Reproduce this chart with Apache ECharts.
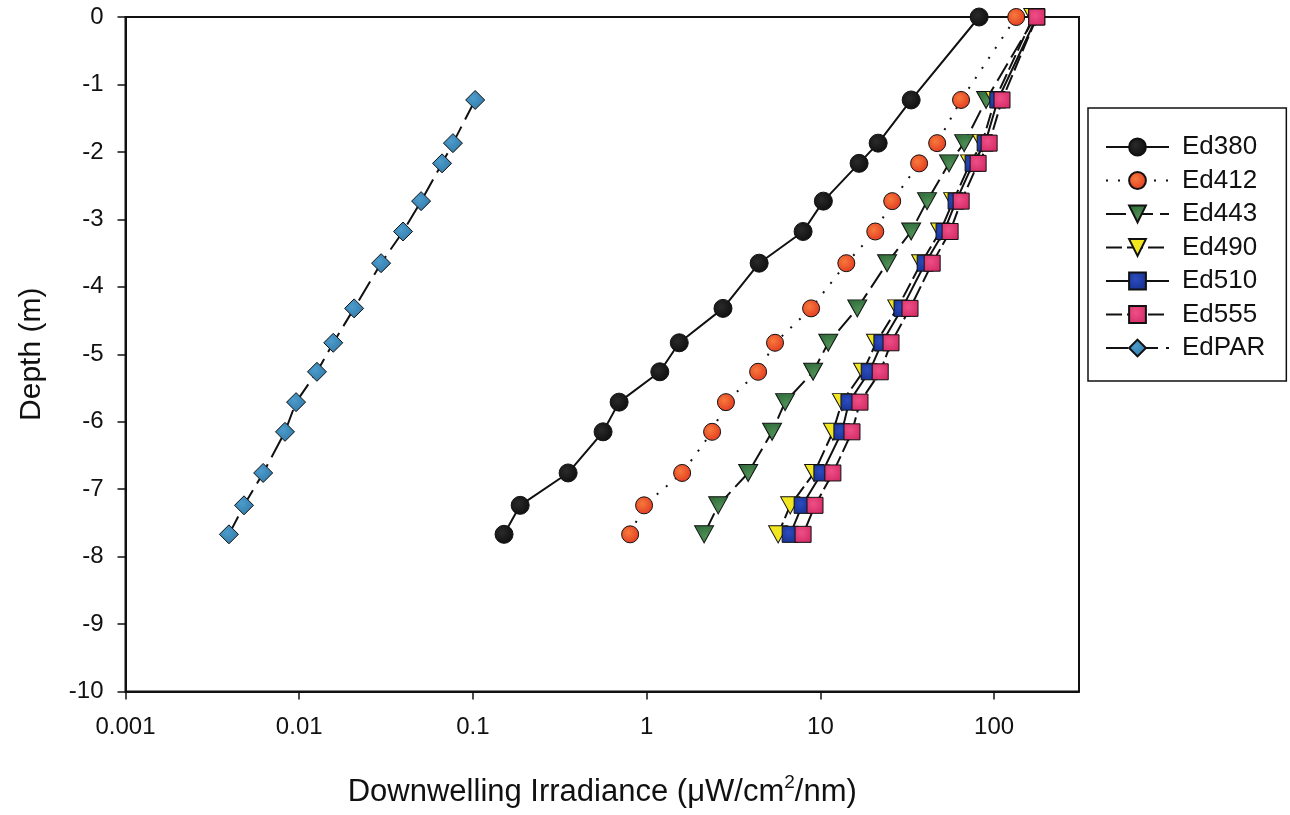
<!DOCTYPE html>
<html>
<head>
<meta charset="utf-8">
<script src="https://cdn.jsdelivr.net/npm/echarts@6/dist/echarts.min.js"></script>
<style>
  html, body { margin: 0; padding: 0; background: #fff; }
  #chart { width: 1290px; height: 815px; }
</style>
</head>
<body>
<div id="chart"></div>
<script>
// ---- data ----
const depth = [0, -1.23, -1.87, -2.17, -2.73, -3.18, -3.65, -4.32, -4.83, -5.26, -5.71, -6.15, -6.76, -7.24, -7.67];
const ed380 = [82, 33.3, 21.5, 16.7, 10.4, 7.95, 4.44, 2.75, 1.54, 1.19, 0.694, 0.561, 0.353, 0.187, 0.151];
const ed412 = [134, 64.5, 47.0, 37.0, 25.9, 20.7, 14.1, 8.84, 5.48, 4.38, 2.86, 2.38, 1.60, 0.966, 0.803];
const ed443 = [172, 89.9, 67.2, 55.0, 41.1, 33.3, 24.2, 16.3, 11.1, 9.08, 6.26, 5.27, 3.84, 2.58, 2.14];
const ed490 = [168, 101, 85.3, 72.7, 58.1, 48.9, 38.0, 27.7, 20.9, 17.6, 13.3, 11.8, 9.20, 6.70, 5.71];
const ed510 = [176, 105, 88.8, 75.7, 60.4, 51.5, 40.1, 29.5, 22.6, 19.1, 14.6, 13.3, 10.2, 7.85, 6.70];
const ed555 = [176, 111, 93.6, 80.9, 64.6, 55.8, 44.0, 32.8, 25.5, 22.1, 16.9, 15.2, 11.8, 9.31, 7.95];
const edPAR = [null, 0.103, 0.0767, 0.0664, 0.0503, 0.0396, 0.0296, 0.0207, 0.0157, 0.01265, 0.00959, 0.00828, 0.0062, 0.00481, 0.00394];

const seriesNames = ['Ed380', 'Ed412', 'Ed443', 'Ed490', 'Ed510', 'Ed555', 'EdPAR'];
const xTickValues = [0.001, 0.01, 0.1, 1, 10, 100];
const xTickLabels = ['0.001', '0.01', '0.1', '1', '10', '100'];
const yTickLabels = ['0', '-1', '-2', '-3', '-4', '-5', '-6', '-7', '-8', '-9', '-10'];

function pairs(vals) {
  const out = [];
  vals.forEach((v, i) => { if (v != null) out.push([v, depth[i]]); });
  return out;
}
function radial(c0, c1) {
  return { type: 'radial', x: 0.4, y: 0.4, r: 0.7,
    colorStops: [{ offset: 0, color: c0 }, { offset: 1, color: c1 }] };
}

const FONT = 'Liberation Sans, Arial, Helvetica, sans-serif';

const styles = [
  { symbol: 'circle', size: 18, color: radial('#2a2a2a', '#0c0c0c'), line: 'solid' },
  { symbol: 'circle', size: 17, color: radial('#f67a3c', '#e2341e'), line: [2, 10] },
  { symbol: 'triangle', size: [19, 17], rotate: 180, color: radial('#4f8f55', '#2f6b3a'), line: [20, 7] },
  { symbol: 'triangle', size: [19, 17], rotate: 180, color: '#f2e620', line: [16, 5] },
  { symbol: 'rect', size: 16, color: radial('#2b4cc0', '#17308f'), line: 'solid' },
  { symbol: 'rect', size: 16, color: radial('#ee4f86', '#d42a66'), line: [16, 5] },
  { symbol: 'diamond', size: 19, color: radial('#4c9ccc', '#2f77a6'), line: [22, 8] }
];
const allVals = [ed380, ed412, ed443, ed490, ed510, ed555, edPAR];

const series = seriesNames.map((name, i) => {
  const s = styles[i];
  return {
    name: name,
    type: 'line',
    data: pairs(allVals[i]),
    symbol: s.symbol,
    symbolSize: s.size,
    symbolRotate: s.rotate || 0,
    showAllSymbol: true,
    lineStyle: { color: '#111', width: 2, type: s.line },
    itemStyle: { color: s.color, borderColor: '#111', borderWidth: 1 },
    emphasis: { disabled: true },
    animation: false,
    z: 2 + i
  };
});

const chart = echarts.init(document.getElementById('chart'), null, { renderer: 'canvas' });
chart.setOption({
  backgroundColor: '#fff',
  animation: false,
  grid: {
    left: 125.5, top: 17, right: 211, bottom: 123.5,
    show: true, borderColor: '#111', borderWidth: 2, backgroundColor: 'transparent'
  },
  legend: {
    orient: 'vertical',
    left: 1088, top: 108,
    padding: [26, 21, 20, 17],
    borderColor: '#111', borderWidth: 1.5,
    itemWidth: 63, itemHeight: 21, itemGap: 7.5,
    textStyle: { fontFamily: FONT, fontSize: 26, lineHeight: 22, color: '#111', padding: [0, 0, 0, 8] },
    data: seriesNames,
    selectedMode: false
  },
  xAxis: {
    type: 'log', logBase: 10, min: 0.001, max: 308,
    name: '{t|Downwelling Irradiance (μW/cm}{s|2}{t|/nm)}',
    nameLocation: 'middle', nameGap: 82,
    nameTextStyle: {
      rich: {
        t: { fontFamily: FONT, fontSize: 31, color: '#111', verticalAlign: 'bottom', lineHeight: 34 },
        s: { fontFamily: FONT, fontSize: 19, color: '#111', verticalAlign: 'top', lineHeight: 34, padding: [0, 0, 17, 0] }
      }
    },
    axisLine: { show: true, onZero: false, lineStyle: { color: '#111', width: 2 } },
    axisTick: { show: true, length: 8, lineStyle: { color: '#111', width: 1.5 }, customValues: xTickValues },
    axisLabel: {
      customValues: xTickValues,
      margin: 24,
      fontFamily: FONT, fontSize: 24, color: '#111',
      formatter: function (v) {
        const idx = xTickValues.findIndex(t => Math.abs(Math.log10(t) - Math.log10(v)) < 1e-6);
        return idx >= 0 ? xTickLabels[idx] : '';
      }
    },
    splitLine: { show: false },
    minorTick: { show: false }
  },
  yAxis: {
    type: 'value', min: -10, max: 0, interval: 1,
    name: 'Depth (m)', nameLocation: 'middle', nameGap: 79, nameRotate: 90,
    nameTextStyle: { fontFamily: FONT, fontSize: 30, color: '#111' },
    axisLine: { show: true, onZero: false, lineStyle: { color: '#111', width: 2 } },
    axisTick: { show: true, length: 8, lineStyle: { color: '#111', width: 1.5 } },
    axisLabel: {
      margin: 22,
      fontFamily: FONT, fontSize: 24, color: '#111',
      formatter: function (v) { return yTickLabels[Math.round(-v)]; }
    },
    splitLine: { show: false }
  },
  series: series
});
</script>
</body>
</html>
